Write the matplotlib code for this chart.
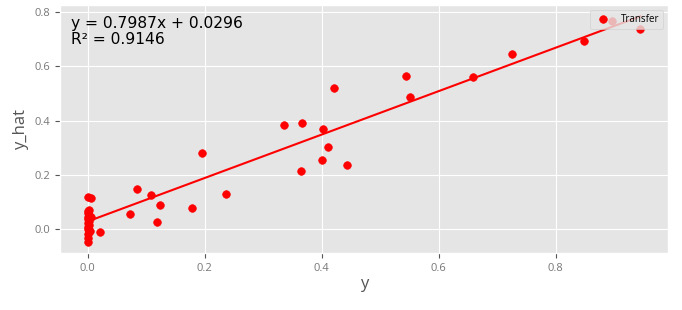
import matplotlib
matplotlib.use('Agg')
import matplotlib.pyplot as plt
import numpy as np

plt.style.use('ggplot')
plt.rcParams['font.family'] = ['Open Sans', 'DejaVu Sans']

# measured y vs predicted y_hat
y = [0.000, 0.001, 0.000, 0.002, 0.000, 0.001, 0.003, 0.000, 0.002, 0.001,
     0.000, 0.003, 0.001, 0.000, 0.002, 0.000, 0.005, 0.004, 0.006,
     0.0205, 0.073, 0.085, 0.108, 0.123, 0.118, 0.179, 0.196, 0.236,
     0.336, 0.367, 0.364, 0.403, 0.411, 0.400, 0.422, 0.443,
     0.544, 0.552, 0.659, 0.726, 0.848, 0.896, 0.945]
y_hat = [-0.045, -0.032, -0.015, -0.005, 0.002, 0.010, 0.018, 0.025, 0.032, 0.040,
         0.047, 0.052, 0.060, 0.067, 0.073, 0.121, 0.117, -0.006, 0.045,
         -0.011, 0.056, 0.150, 0.126, 0.091, 0.029, 0.079, 0.283, 0.132,
         0.384, 0.390, 0.217, 0.369, 0.305, 0.257, 0.520, 0.239,
         0.563, 0.487, 0.561, 0.646, 0.692, 0.766, 0.736]

slope = 0.7987
intercept = 0.0296
r2 = 0.9146

fig = plt.figure(figsize=(6.82, 3.10), dpi=100)
ax = fig.add_axes([60 / 682, 57 / 310, 608 / 682, 248 / 310])

ax.scatter(y, y_hat, color='red', s=30, label='Transfer', zorder=3)
xs = np.sort(np.array(y))
ax.plot(xs, slope * xs + intercept, color='red', linewidth=1.5, zorder=3)

ax.text(0.018, 0.955, 'y = %.4fx + %.4f\nR² = %.4f' % (slope, intercept, r2),
        transform=ax.transAxes, fontsize=11.2, va='top', ha='left',
        linespacing=1.1, color='black', family='DejaVu Sans')

ax.set_xlabel('y', fontsize=12, color='#555555', labelpad=2)
ax.set_ylabel('y_hat', fontsize=12, color='#555555')
ax.tick_params(labelsize=8, labelcolor='#777777')
ax.set_xticks([0.0, 0.2, 0.4, 0.6, 0.8])
ax.set_yticks([0.0, 0.2, 0.4, 0.6, 0.8])

ax.legend(loc='upper right', fontsize=7, framealpha=0.8, markerscale=1.0)

fig.savefig('out.png', dpi=100)
